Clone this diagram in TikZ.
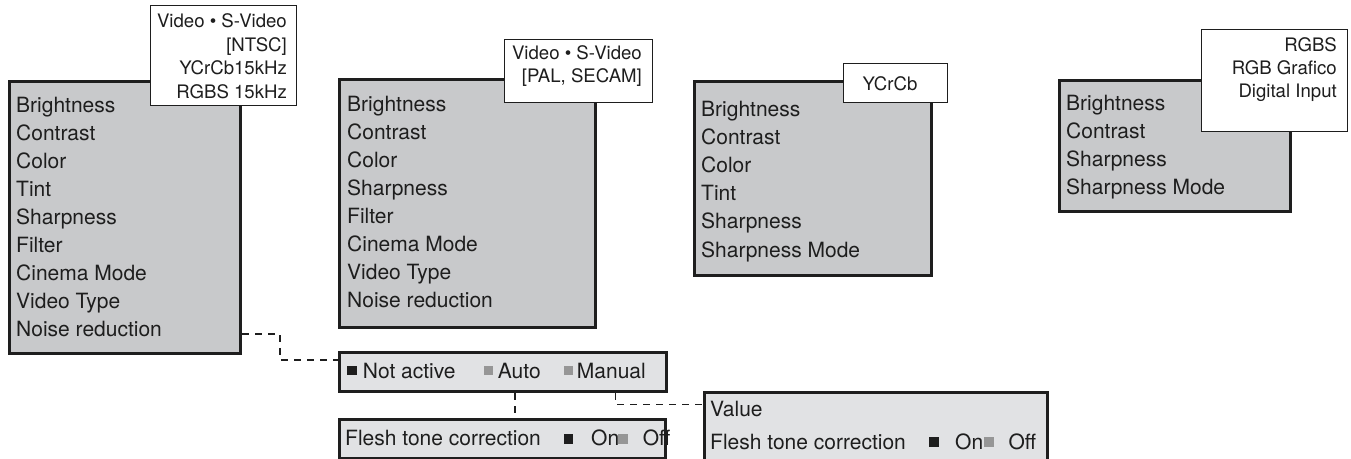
\documentclass[tikz,border=0pt]{standalone}
\usepackage{fontspec}
\setmainfont{TeX Gyre Heros}
\definecolor{menugray}{RGB}{200,201,203}
\definecolor{optgray}{RGB}{225,226,228}
\definecolor{edge}{RGB}{30,30,30}
\definecolor{sqgray}{RGB}{150,150,150}
\begin{document}
\begin{tikzpicture}[x=1pt,y=-1pt,
  menubox/.style={draw=edge, line width=3pt, fill=menugray, anchor=north west, inner sep=0pt},
  srcbox/.style={draw=edge, line width=1.4pt, fill=white, anchor=north west, inner sep=0pt},
  optbox/.style={draw=edge, line width=3pt, fill=optgray, anchor=north west, inner sep=0pt},
  item/.style={anchor=base west, inner sep=0pt, text=edge, font=\fontsize{21}{28}\selectfont},
  src/.style={anchor=base east, inner sep=0pt, text=edge, font=\fontsize{18.6}{23.5}\selectfont},
  sqr/.style={fill=#1, inner sep=0pt, minimum size=9.5pt, anchor=center},
  conn/.style={draw=edge, line width=1.4pt, dash pattern=on 7pt off 6pt}]
\useasboundingbox (0,0) rectangle (1351,458);

% ---------- Box 1 ----------
\node[menubox, minimum width=231pt, minimum height=272pt] (b1) at (8,80) {};
\foreach \t [count=\i] in {Brightness,Contrast,Color,Tint,Sharpness,Filter,Cinema Mode,Video Type,Noise reduction}
  \node[item] (b1t\i) at (16,{112.3+28*(\i-1)}) {\t};
\node[srcbox, minimum width=146pt, minimum height=100pt] (s1) at (150,5) {};
\node[src] (s1a) at (287,27.5) {Video • S-Video};
\node[src] (s1b) at (287,51) {[NTSC]};
\node[src] (s1c) at (287,74.5) {YCrCb15kHz};
\node[src] (s1d) at (287,98) {RGBS 15kHz};

% ---------- Box 2 ----------
\node[menubox, minimum width=256pt, minimum height=248pt] (b2) at (338,78) {};
\foreach \t [count=\i] in {Brightness,Contrast,Color,Sharpness,Filter,Cinema Mode,Video Type,Noise reduction}
  \node[item] (b2t\i) at (347,{111.7+28*(\i-1)}) {\t};
\node[srcbox, minimum width=148pt, minimum height=63pt] (s2) at (504,39) {};
\node[src] (s2a) at (642,59.3) {Video • S-Video};
\node[src] (s2b) at (642,82.8) {[PAL, SECAM]};

% ---------- Box 3 ----------
\node[menubox, minimum width=237pt, minimum height=194pt] (b3) at (693,80) {};
\foreach \t [count=\i] in {Brightness,Contrast,Color,Tint,Sharpness,Sharpness Mode}
  \node[item] (b3t\i) at (701,{116+28.2*(\i-1)}) {\t};
\node[srcbox, minimum width=104pt, minimum height=39pt] (s3) at (843,63) {};
\node[src, anchor=base] (s3a) at (890,90) {YCrCb};

% ---------- Box 4 ----------
\node[menubox, minimum width=231pt, minimum height=131pt] (b4) at (1058,79) {};
\foreach \t [count=\i] in {Brightness,Contrast,Sharpness,Sharpness Mode}
  \node[item] (b4t\i) at (1066,{110+28*(\i-1)}) {\t};
\node[srcbox, minimum width=146pt, minimum height=102pt] (s4) at (1201,29) {};
\node[src] (s4a) at (1337,51.7) {RGBS};
\node[src] (s4b) at (1337,74.3) {RGB Grafico};
\node[src] (s4c) at (1337,97) {Digital Input};

% ---------- Option boxes ----------
\node[optbox, minimum width=327pt, minimum height=39pt] (na) at (338,351) {};
\node[sqr=edge] (naq1) at (352,370.3) {};
\node[item] (nat1) at (362.7,378) {Not active};
\node[sqr=sqgray] (naq2) at (488.3,370.3) {};
\node[item] (nat2) at (497.7,378) {Auto};
\node[sqr=sqgray] (naq3) at (568.3,370.3) {};
\node[item] (nat3) at (576.7,378) {Manual};

\node[optbox, minimum width=326pt, minimum height=39pt] (ft) at (338,418) {};
\node[item] (ftt) at (345,445.5) {Flesh tone correction};
\node[sqr=edge] (ftq1) at (568.3,438.8) {};
\node[item] (fton) at (591,445.5) {On};
\node[sqr=sqgray] (ftq2) at (623.2,438.8) {};
\node[item] (ftoff) at (642.7,445.5) {Off};

\node[optbox, minimum width=343pt, minimum height=84pt] (val) at (703,391) {};
\node[item] (valt) at (710,416.5) {Value};
\node[item] (valf) at (710,449) {Flesh tone correction};
\node[sqr=edge] (valq1) at (933.8,442) {};
\node[item] (valon) at (955,449) {On};
\node[sqr=sqgray] (valq2) at (989.2,442) {};
\node[item] (valoff) at (1008.3,449) {Off};

% ---------- Connectors ----------
\coordinate (j1) at (280,334);
\coordinate (j2) at (280,360);
\coordinate (j3) at (515,404);
\coordinate (j4) at (615.7,404.3);
\draw[conn] (b1.east |- j1) -- (j1) -- (j2) -- (na.west |- j2);
\draw[conn] (na.south -| j3) -- (ft.north -| j3);
\draw[conn] (na.south -| j4) -- (j4) -- (val.west |- j4);
\end{tikzpicture}
\end{document}
